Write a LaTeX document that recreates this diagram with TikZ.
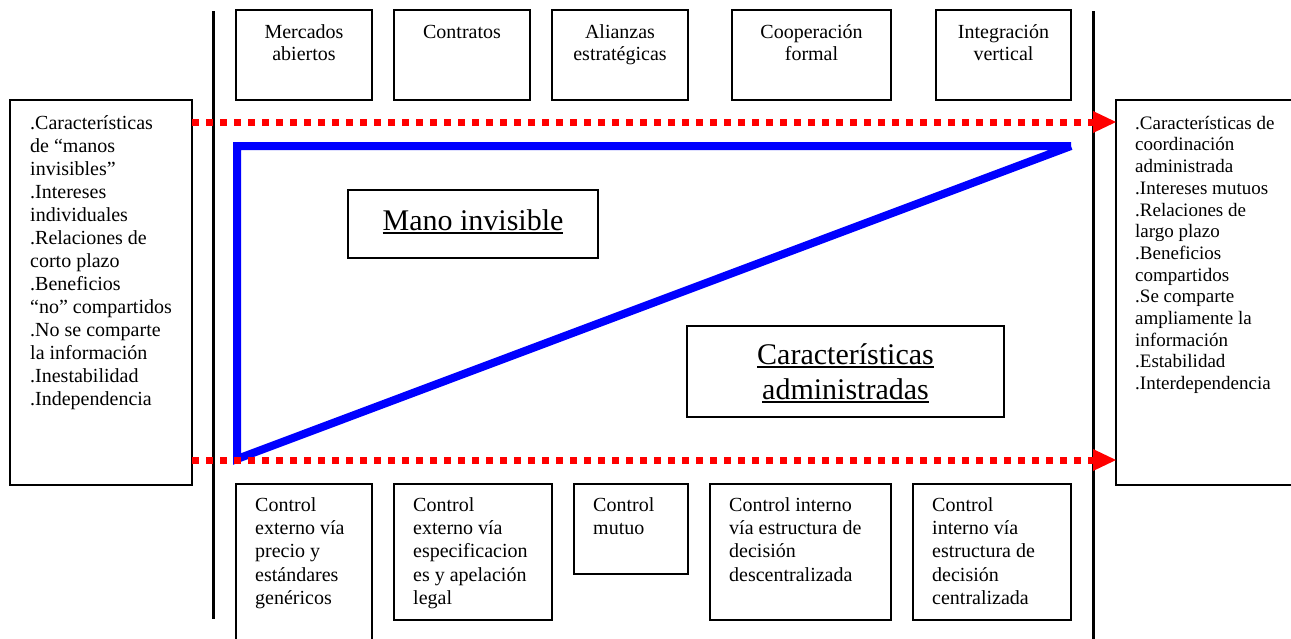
\documentclass[tikz,border=0pt]{standalone}
\usepackage{fontspec}
\setmainfont{Liberation Serif}
\usetikzlibrary{arrows.meta}
\newcommand\myul[1]{\setbox0\hbox{#1}\rlap{\rule[-4pt]{\wd0}{1.8pt}}\box0}
\newcommand\tstrut{\rule{0pt}{20pt}}
\begin{document}
\begin{tikzpicture}[x=1pt,y=-1pt,
  box/.style={draw=black, line width=1.3pt, rectangle, inner sep=0pt, outer sep=0pt, anchor=north west},
  txt/.style={inner sep=0pt, font=\fontsize{20}{23.3}\selectfont},
  toptxt/.style={txt, align=center, anchor=north, font=\fontsize{20}{22.7}\selectfont},
  bottxt/.style={txt, align=left, anchor=north west},
  sidetxt/.style={inner sep=0pt, align=left, anchor=north west},
  bigtxt/.style={inner sep=0pt, align=center, anchor=north, font=\fontsize{30}{35}\selectfont},
  reddot/.style={draw=red, line width=7pt, dash pattern=on 7pt off 7pt,
    -{Triangle[length=23pt,width=22pt,line width=0pt]}},
  vline/.style={draw=black, line width=3pt},
  tri/.style={draw=blue, line width=8pt, line join=miter}]
\useasboundingbox (0,0) rectangle (1291,638);
\fill[white] (0,0) rectangle (1291,638);

% vertical separators
\coordinate (la) at (213,11); \coordinate (lb) at (213,619);
\coordinate (ra) at (1093,11); \coordinate (rb) at (1093,645);
\draw[vline] (la) -- (lb);
\draw[vline] (ra) -- (rb);

% top boxes
\node[box, minimum width=136pt, minimum height=90pt] (t1) at (236,10) {};
\node[box, minimum width=136pt, minimum height=90pt] (t2) at (394,10) {};
\node[box, minimum width=136pt, minimum height=90pt] (t3) at (552,10) {};
\node[box, minimum width=159pt, minimum height=90pt] (t4) at (732,10) {};
\node[box, minimum width=135pt, minimum height=90pt] (t5) at (936,10) {};
\path (t1.north) ++(0,8) node[toptxt] (t1x) {\tstrut Mercados\\abiertos};
\path (t2.north) ++(0,8) node[toptxt] (t2x) {\tstrut Contratos};
\path (t3.north) ++(0,8) node[toptxt] (t3x) {\tstrut Alianzas\\estratégicas};
\path (t4.north) ++(0,8) node[toptxt] (t4x) {\tstrut Cooperación\\formal};
\path (t5.north) ++(0,8) node[toptxt] (t5x) {\tstrut Integración\\vertical};

% bottom boxes
\node[box, minimum width=136pt, minimum height=170pt] (b1) at (236,484) {};
\node[box, minimum width=158pt, minimum height=136pt] (b2) at (394,484) {};
\node[box, minimum width=114pt, minimum height=90pt] (b3) at (574,484) {};
\node[box, minimum width=181pt, minimum height=136pt] (b4) at (710,484) {};
\node[box, minimum width=158pt, minimum height=136pt] (b5) at (913,484) {};
\path (b1.north west) ++(19,7) node[bottxt] (b1x) {\tstrut Control\\externo vía\\precio y\\estándares\\genéricos};
\path (b2.north west) ++(19,7) node[bottxt] (b2x) {\tstrut Control\\externo vía\\especificacion\\es y apelación\\legal};
\path (b3.north west) ++(19,7) node[bottxt] (b3x) {\tstrut Control\\mutuo};
\path (b4.north west) ++(19,7) node[bottxt] (b4x) {\tstrut Control interno\\vía estructura de\\decisión\\descentralizada};
\path (b5.north west) ++(19,7) node[bottxt] (b5x) {\tstrut Control\\interno vía\\estructura de\\decisión\\centralizada};

% side boxes
\node[box, minimum width=182pt, minimum height=385pt] (L) at (10,100) {};
\node[box, minimum width=190pt, minimum height=385pt] (R) at (1116,100) {};
\path (L.north west) ++(20,9) node[sidetxt, font=\fontsize{20}{23.05}\selectfont] (Lx)
  {\tstrut .Características\\de “manos\\invisibles”\\.Intereses\\individuales\\.Relaciones de\\corto plazo\\.Beneficios\\“no” compartidos\\.No se comparte\\la información\\.Inestabilidad\\.Independencia};
\path (R.north west) ++(19,9) node[sidetxt, font=\fontsize{19}{21.7}\selectfont] (Rx)
  {\tstrut .Características de\\coordinación\\administrada\\.Intereses mutuos\\.Relaciones de\\largo plazo\\.Beneficios\\compartidos\\.Se comparte\\ampliamente la\\información\\.Estabilidad\\.Interdependencia};

% middle boxes
\node[box, minimum width=250pt, minimum height=68pt] (M) at (348,190) {};
\node[box, minimum width=317pt, minimum height=91pt] (C) at (687,326) {};
\path (M.north) ++(0,19) node[bigtxt] (Mx) {\tstrut\myul{Mano invisible}};
\path (C.north) ++(0,17) node[bigtxt] (Cx) {\tstrut\myul{Características}\\\myul{administradas}};

% blue triangle
\draw[tri] (1071,146) -- (237,146) -- (237,459) -- (1071,146);

% red dotted arrows
\draw[reddot] ([yshift=-22pt]L.north east) -- ([yshift=-22pt]R.north west);
\draw[reddot] ([yshift=25pt]L.south east) -- ([yshift=25pt]R.south west);
\end{tikzpicture}
\end{document}
